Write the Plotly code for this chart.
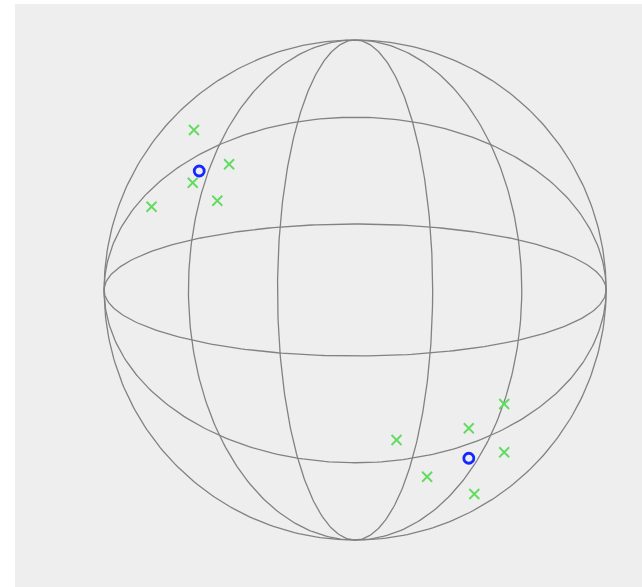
import numpy as np
import plotly.graph_objects as go

# Wireframe: half-widths of the great circles through the poles (vertical family)
meridian_ratios = [1.0, 0.664, 0.309]
# half-heights of the great circles through left/right points (horizontal family)
parallel_ratios = [0.691, 0.264]

# Observations (unit sphere, projected)
green_x = [-0.642, -0.502, -0.647, -0.549, -0.811, 0.594, 0.453, 0.165, 0.594, 0.287, 0.475]
green_y = [0.640, 0.503, 0.429, 0.357, 0.333, -0.456, -0.553, -0.600, -0.649, -0.747, -0.816]
blue_x = [-0.621, 0.453]
blue_y = [0.476, -0.673]

t = np.linspace(0, 2 * np.pi, 361)
line_style = dict(color="rgb(130,130,130)", width=1.3)

fig = go.Figure()
for r in meridian_ratios:
    fig.add_trace(go.Scatter(x=r * np.cos(t), y=np.sin(t), mode="lines",
                             line=line_style, hoverinfo="skip", showlegend=False))
for r in parallel_ratios:
    fig.add_trace(go.Scatter(x=np.cos(t), y=r * np.sin(t), mode="lines",
                             line=line_style, hoverinfo="skip", showlegend=False))

fig.add_trace(go.Scatter(x=green_x, y=green_y, mode="markers", showlegend=False,
                         marker=dict(symbol="x-thin-open", size=10,
                                     color="rgb(95,220,95)",
                                     line=dict(color="rgb(95,220,95)", width=1.8))))
fig.add_trace(go.Scatter(x=blue_x, y=blue_y, mode="markers", showlegend=False,
                         marker=dict(symbol="circle-open", size=10,
                                     color="rgb(20,40,255)",
                                     line=dict(color="rgb(20,40,255)", width=2.8))))

fig.update_layout(
    width=642, height=587,
    margin=dict(l=15, r=0, t=4, b=0),
    paper_bgcolor="white",
    plot_bgcolor="#eeeeee",
    xaxis=dict(range=[-1.355, 1.143], visible=False, showgrid=False, zeroline=False),
    yaxis=dict(range=[-1.188, 1.144], visible=False, showgrid=False, zeroline=False),
)
fig.write_html("out.html", config={"displayModeBar": False})
